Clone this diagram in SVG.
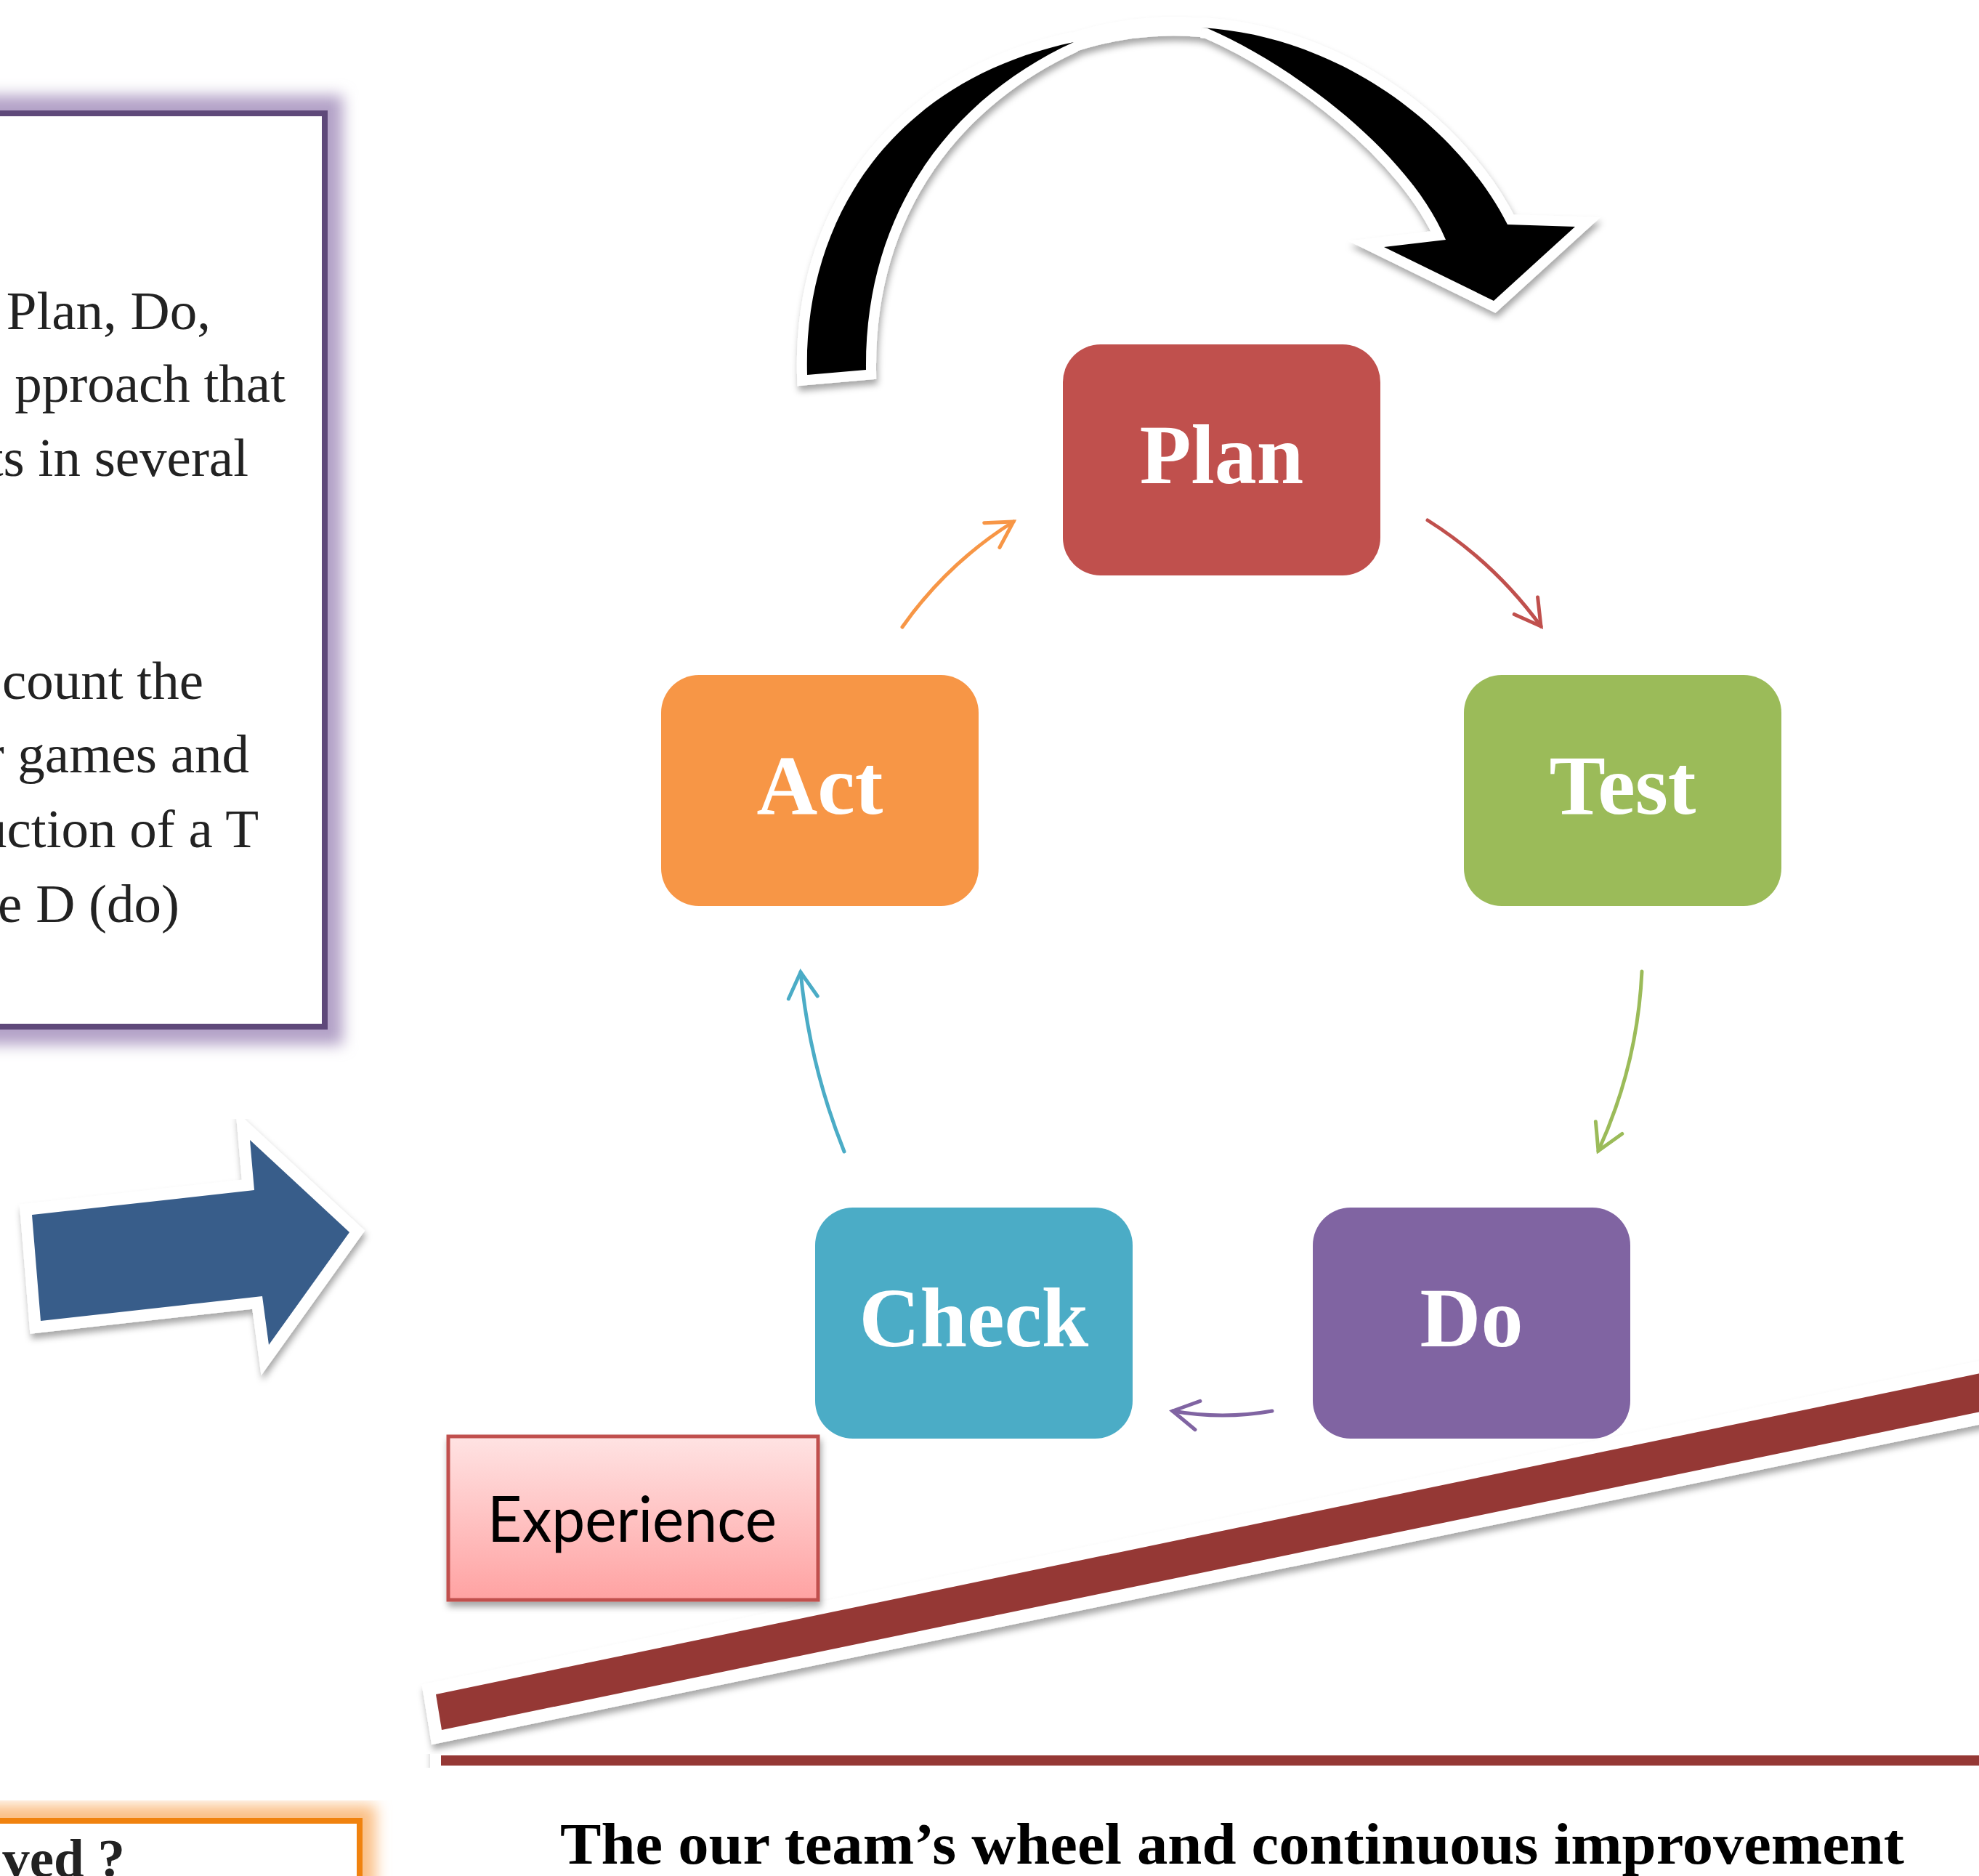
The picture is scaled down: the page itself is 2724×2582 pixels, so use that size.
<svg xmlns="http://www.w3.org/2000/svg" width="2724" height="2582" viewBox="0 0 2724 2582">
<defs>
<style>
.body{font-family:"Liberation Serif","Times New Roman",serif;font-size:75px;fill:#222}
.lbl{font-family:"Liberation Serif","Times New Roman",serif;font-weight:bold;font-size:116px;fill:#fff;text-anchor:middle}
.node{stroke:none}
.conn{fill:none;stroke-width:5;stroke-linecap:round}
.wh{stroke:#fff;paint-order:stroke;stroke-linejoin:miter}
</style>
<filter id="shadow" x="-10%" y="-10%" width="120%" height="130%">
<feDropShadow dx="2" dy="7" stdDeviation="5" flood-color="#000" flood-opacity="0.35"/>
</filter>
<filter id="soft" x="-20%" y="-20%" width="140%" height="140%">
<feGaussianBlur stdDeviation="10"/>
</filter>
<linearGradient id="expg" x1="0" y1="0" x2="0" y2="1">
<stop offset="0" stop-color="#ffe3e3"/>
<stop offset="1" stop-color="#ffa2a2"/>
</linearGradient>
<marker id="mO" viewBox="-45 -25 50 50" refX="0" refY="0" markerWidth="50" markerHeight="50" markerUnits="userSpaceOnUse" orient="auto"><path d="M-35,-20 L0,0 L-35,20" fill="none" stroke="#f79646" stroke-width="5" stroke-linecap="round"/></marker>
<marker id="mR" viewBox="-45 -25 50 50" refX="0" refY="0" markerWidth="50" markerHeight="50" markerUnits="userSpaceOnUse" orient="auto"><path d="M-35,-20 L0,0 L-35,20" fill="none" stroke="#c0504d" stroke-width="5" stroke-linecap="round"/></marker>
<marker id="mG" viewBox="-45 -25 50 50" refX="0" refY="0" markerWidth="50" markerHeight="50" markerUnits="userSpaceOnUse" orient="auto"><path d="M-35,-20 L0,0 L-35,20" fill="none" stroke="#9bbb59" stroke-width="5" stroke-linecap="round"/></marker>
<marker id="mP" viewBox="-45 -25 50 50" refX="0" refY="0" markerWidth="50" markerHeight="50" markerUnits="userSpaceOnUse" orient="auto"><path d="M-35,-20 L0,0 L-35,20" fill="none" stroke="#8064a2" stroke-width="5" stroke-linecap="round"/></marker>
<marker id="mB" viewBox="-45 -25 50 50" refX="0" refY="0" markerWidth="50" markerHeight="50" markerUnits="userSpaceOnUse" orient="auto"><path d="M-35,-20 L0,0 L-35,20" fill="none" stroke="#4bacc6" stroke-width="5" stroke-linecap="round"/></marker>
</defs>
<rect x="0" y="0" width="2724" height="2582" fill="#fff"/>

<!-- left text box -->
<g id="textbox">
<rect x="-40" y="156" width="487" height="1257" fill="none" stroke="#b3a2c7" stroke-width="50" filter="url(#soft)"/>
<rect x="-40" y="156" width="487" height="1257" fill="#fff" stroke="#5f497a" stroke-width="8"/>
<text class="body" x="290" y="453" text-anchor="end">Plan, Do,</text>
<text class="body" x="393" y="553" text-anchor="end">pproach that</text>
<text class="body" x="342" y="655" text-anchor="end">ts in several</text>
<text class="body" x="280" y="962" text-anchor="end">count the</text>
<text class="body" x="343" y="1063" text-anchor="end">r games and</text>
<text class="body" x="356" y="1166" text-anchor="end">uction of a T</text>
<text class="body" x="247" y="1269" text-anchor="end">e D (do)</text>
</g>

<!-- bottom-left orange box -->
<g id="questionbox">
<rect x="-40" y="2506" width="535" height="140" fill="none" stroke="#fbbf85" stroke-width="44" filter="url(#soft)"/>
<rect x="-40" y="2506" width="535" height="140" fill="#fff" stroke="#f0820e" stroke-width="8"/>
<text class="body" x="172" y="2583" text-anchor="end" font-weight="bold" font-size="76">ved ?</text>
</g>

<!-- blue block arrow -->
<g id="bluearrow" filter="url(#shadow)">
<polygon class="wh" points="44,1672 350,1638 344,1569 481,1696 370,1851 361,1784 56,1818" fill="#385d8a" stroke-width="32"/>
</g>

<!-- big black curved arrow -->
<g id="curvedarrow" filter="url(#shadow)">
<path d="M1478,58 Q1566,30 1654,38" fill="none" stroke="#fff" stroke-width="26"/>
<path class="wh" d="M1111,516 C1105,300 1230,110 1478,58 C1320,130 1190,280 1192,509 Z" fill="#000" stroke-width="28"/>
<path class="wh" d="M1654,38 C1850,50 2010,180 2075,309 L2168,312 L2056,414 L1905,340 L1990,330 C1940,210 1780,90 1662,39 Z" fill="#000" stroke-width="28"/>
</g>

<!-- experience bars -->
<g id="rampbar" filter="url(#shadow)">
<polygon class="wh" points="600,2332 2760,1883 2760,1936 608,2381" fill="#953735" stroke-width="34"/>
</g>
<g id="baseline" filter="url(#shadow)">
<rect class="wh" x="607" y="2416" width="2160" height="14" fill="#953735" stroke-width="30"/>
</g>

<!-- experience box -->
<g id="experience">
<rect x="617" y="1977" width="509" height="225" fill="url(#expg)" stroke="#c0504d" stroke-width="5" filter="url(#shadow)"/>
<text x="671" y="2122" font-family="Lato, 'Open Sans', sans-serif" font-size="88" fill="#000" textLength="398" lengthAdjust="spacingAndGlyphs">Experience</text>
</g>

<!-- cycle nodes -->
<g id="plan"><rect class="node" x="1463" y="474" width="437" height="318" rx="52" fill="#c0504d"/><text class="lbl" x="1681.5" y="665">Plan</text></g>
<g id="test"><rect class="node" x="2015" y="929" width="437" height="318" rx="52" fill="#9bbb59"/><text class="lbl" x="2233.5" y="1120">Test</text></g>
<g id="do"><rect class="node" x="1807" y="1662" width="437" height="318" rx="52" fill="#8064a2"/><text class="lbl" x="2025.5" y="1853">Do</text></g>
<g id="check"><rect class="node" x="1122" y="1662" width="437" height="318" rx="52" fill="#4bacc6"/><text class="lbl" x="1340.5" y="1853">Check</text></g>
<g id="act"><rect class="node" x="910" y="929" width="437" height="318" rx="52" fill="#f79646"/><text class="lbl" x="1128.5" y="1120">Act</text></g>

<!-- connectors -->
<g id="connectors">
<path class="conn" d="M1242,863 Q1304,775 1395,718" stroke="#f79646" marker-end="url(#mO)"/>
<path class="conn" d="M1965,716 Q2057,774 2121,862" stroke="#c0504d" marker-end="url(#mR)"/>
<path class="conn" d="M2260,1337 Q2254,1466 2200,1584" stroke="#9bbb59" marker-end="url(#mG)"/>
<path class="conn" d="M1751,1942 Q1683,1954 1614,1942" stroke="#8064a2" marker-end="url(#mP)"/>
<path class="conn" d="M1162,1585 Q1114,1465 1102,1338" stroke="#4bacc6" marker-end="url(#mB)"/>
</g>

<!-- caption -->
<text id="caption" x="771" y="2565" font-family="'Liberation Serif','Times New Roman',serif" font-weight="bold" font-size="80" fill="#000" textLength="1850" lengthAdjust="spacingAndGlyphs">The our team’s wheel and continuous improvement</text>
</svg>
